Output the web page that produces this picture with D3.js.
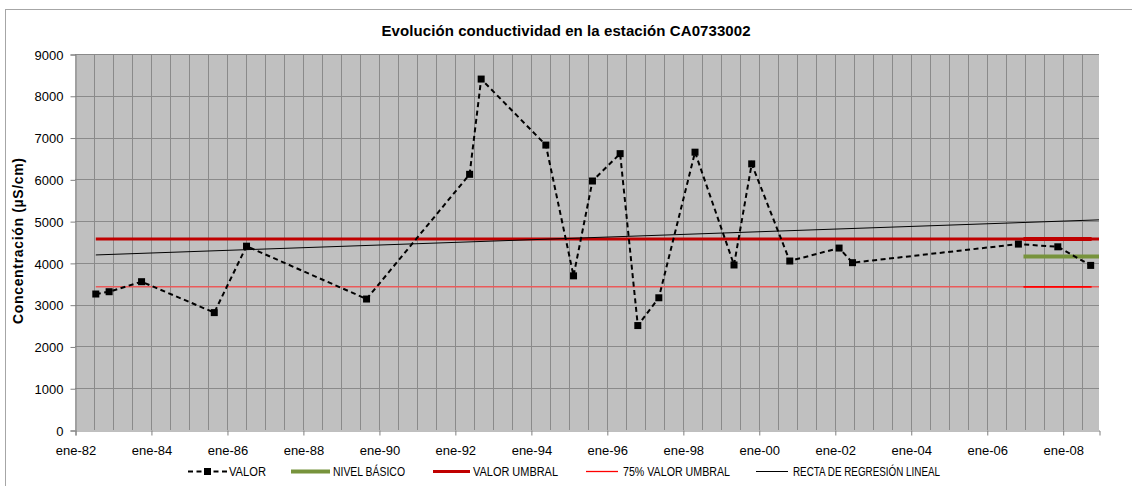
<!DOCTYPE html>
<html>
<head>
<meta charset="utf-8">
<script src="https://cdn.jsdelivr.net/npm/d3@7"></script>
<style>
  html, body { margin: 0; padding: 0; background: #fff; }
  svg { display: block; font-family: "Liberation Sans", Arial, sans-serif; }
</style>
</head>
<body>
<svg id="chart" width="1132" height="486"></svg>
<script>
// ---- data ----
const valorDates = ["1982-07-20","1982-11-25","1983-10-03","1985-09-01","1986-07-08","1989-09-04",
  "1992-05-22","1992-09-10","1994-05-25","1995-02-15","1995-08-16","1996-05-08","1996-10-25",
  "1997-05-15","1998-04-28","1999-05-08","1999-10-25","2000-10-25","2002-02-11","2002-06-20",
  "2006-11-01","2007-11-15","2008-09-26"];
const valorValues = [3255, 3310, 3550, 2810, 4400, 3135, 6120, 8400, 6820, 3690, 5960, 6615, 2500,
  3165, 6650, 3950, 6370, 4045, 4355, 4005, 4450, 4385, 3940];

const umbralValue = 4570;
const umbral75Value = 3427;
const nivelBasicoValue = 4150;
const periodDates = ["2006-12-20", "2008-10-05"];      // recent-period segments
const nivelBasicoDates = ["2006-12-20", "2008-12-15"];
const regressionValues = [4190, 5030];

const xDomain = ["1982-01-01", "2008-12-15"];
const yTicks = [0, 1000, 2000, 3000, 4000, 5000, 6000, 7000, 8000, 9000];
const xTickYears = [1982, 1984, 1986, 1988, 1990, 1992, 1994, 1996, 1998, 2000, 2002, 2004, 2006, 2008];
const xTickLabels = ["ene-82","ene-84","ene-86","ene-88","ene-90","ene-92","ene-94","ene-96","ene-98",
  "ene-00","ene-02","ene-04","ene-06","ene-08"];

const titleText = "Evolución conductividad en la estación CA0733002";
const yLabelText = "Concentración (µS/cm)";
const legendLabels = ["VALOR", "NIVEL BÁSICO", "VALOR UMBRAL", "75% VALOR UMBRAL", "RECTA DE REGRESIÓN LINEAL"];

// ---- setup ----
const parse = d3.timeParse("%Y-%m-%d");
const svg = d3.select("#chart");
const plot = { left: 75, right: 1099, top: 54, bottom: 430 };

const x = d3.scaleTime().domain(xDomain.map(parse)).range([plot.left, plot.right]);
const y = d3.scaleLinear().domain([0, 9000]).range([plot.bottom, plot.top]);

// outer chart border
svg.append("rect").attr("x", 5.5).attr("y", 9.5).attr("width", 1140).attr("height", 500)
  .attr("fill", "#fff").attr("stroke", "#a6a6a6").attr("stroke-width", 1);

// plot background
svg.append("rect").attr("x", plot.left).attr("y", plot.top)
  .attr("width", plot.right - plot.left).attr("height", plot.bottom - plot.top)
  .attr("fill", "#c0c0c0");

// vertical gridlines every 6 months
const vGrid = d3.timeMonth.every(6).range(x.domain()[0], x.domain()[1]);
svg.append("g").selectAll("line").data(vGrid.filter(d => x(d) > plot.left + 1)).join("line")
  .attr("x1", d => Math.round(x(d)) + 0.5).attr("x2", d => Math.round(x(d)) + 0.5)
  .attr("y1", plot.top).attr("y2", plot.bottom)
  .attr("stroke", "#8a8a8a").attr("stroke-width", 1);

// horizontal gridlines
svg.append("g").selectAll("line").data(yTicks.filter(v => v > 0)).join("line")
  .attr("x1", plot.left).attr("x2", plot.right)
  .attr("y1", d => Math.round(y(d)) + 0.5).attr("y2", d => Math.round(y(d)) + 0.5)
  .attr("stroke", "#8a8a8a").attr("stroke-width", 1);

// axes
const yAxis = d3.axisLeft(y).tickValues(yTicks).tickSize(5).tickPadding(7).tickFormat(d3.format("d"));
const gy = svg.append("g").attr("transform", `translate(${plot.left + 0.5},0.5)`).call(yAxis);
const xTickDates = xTickYears.map(yr => new Date(yr, 0, 1));
const xAxis = d3.axisBottom(x).tickValues(xTickDates).tickSize(5).tickPadding(10)
  .tickFormat((d, i) => xTickLabels[i]);
const gx = svg.append("g").attr("transform", `translate(0.5,${plot.bottom + 0.5})`).call(xAxis);
[gx, gy].forEach(g => {
  g.select(".domain").attr("stroke", "#808080");
  g.selectAll(".tick line").attr("stroke", "#808080");
  g.selectAll(".tick text").attr("fill", "#000").style("font-size", "13px")
    .style("font-family", "'Liberation Sans', Arial, sans-serif");
});
gy.selectAll(".tick text").attr("dy", "0.36em");

// reference lines
const firstDate = parse(valorDates[0]);
const endDate = x.domain()[1];
function hline(d0, d1, v, color, w) {
  svg.append("line").attr("x1", x(d0)).attr("x2", x(d1)).attr("y1", y(v)).attr("y2", y(v))
    .attr("stroke", color).attr("stroke-width", w);
}
hline(firstDate, endDate, umbral75Value, "#ea5a5a", 1.5);
hline(parse(periodDates[0]), parse(periodDates[1]), umbral75Value, "#ff0000", 1.8);
hline(firstDate, endDate, umbralValue, "#c00000", 3);
hline(parse(periodDates[0]), parse(periodDates[1]), umbralValue, "#c00000", 4);
hline(parse(nivelBasicoDates[0]), parse(nivelBasicoDates[1]), nivelBasicoValue, "#77933c", 4);

// regression line
svg.append("line")
  .attr("x1", x(firstDate)).attr("y1", y(regressionValues[0]))
  .attr("x2", x(endDate)).attr("y2", y(regressionValues[1]))
  .attr("stroke", "#000").attr("stroke-width", 1);

// VALOR series
const valor = valorDates.map((d, i) => ({ date: parse(d), value: valorValues[i] }));
const line = d3.line().x(d => x(d.date)).y(d => y(d.value));
svg.append("path").datum(valor).attr("d", line).attr("fill", "none")
  .attr("stroke", "#000").attr("stroke-width", 2).attr("stroke-dasharray", "5,3.5");
const ms = 7;
svg.append("g").selectAll("rect").data(valor).join("rect")
  .attr("x", d => x(d.date) - ms / 2).attr("y", d => y(d.value) - ms / 2)
  .attr("width", ms).attr("height", ms).attr("fill", "#000");

// title
svg.append("text").attr("x", 566).attr("y", 36).attr("text-anchor", "middle")
  .style("font-size", "15px").style("font-weight", "bold").attr("textLength", 369)
  .text(titleText);

// y label
svg.append("text").attr("transform", "translate(22.5,241) rotate(-90)").attr("text-anchor", "middle")
  .style("font-size", "14px").style("font-weight", "bold").attr("textLength", 166)
  .text(yLabelText);

// legend
const ly = 471.5;
const legend = [
  { x1: 188, x2: 227, tx: 229, tw: 37, color: "#000", w: 2, dash: "5,3.5", marker: true },
  { x1: 291, x2: 330, tx: 333, tw: 72, color: "#77933c", w: 4 },
  { x1: 433, x2: 470, tx: 473, tw: 85, color: "#c00000", w: 3 },
  { x1: 586, x2: 618, tx: 623, tw: 107, color: "#ff0000", w: 1.3 },
  { x1: 756, x2: 788, tx: 793, tw: 147, color: "#000", w: 1 }
];
const lg = svg.append("g");
legend.forEach((l, i) => {
  lg.append("line").attr("x1", l.x1).attr("x2", l.x2).attr("y1", ly).attr("y2", ly)
    .attr("stroke", l.color).attr("stroke-width", l.w).attr("stroke-dasharray", l.dash || null);
  if (l.marker) {
    lg.append("rect").attr("x", (l.x1 + l.x2) / 2 - ms / 2).attr("y", ly - ms / 2)
      .attr("width", ms).attr("height", ms).attr("fill", "#000");
  }
  lg.append("text").attr("x", l.tx).attr("y", ly + 4).style("font-size", "12px")
    .attr("textLength", l.tw).attr("lengthAdjust", "spacingAndGlyphs").text(legendLabels[i]);
});
</script>
</body>
</html>
